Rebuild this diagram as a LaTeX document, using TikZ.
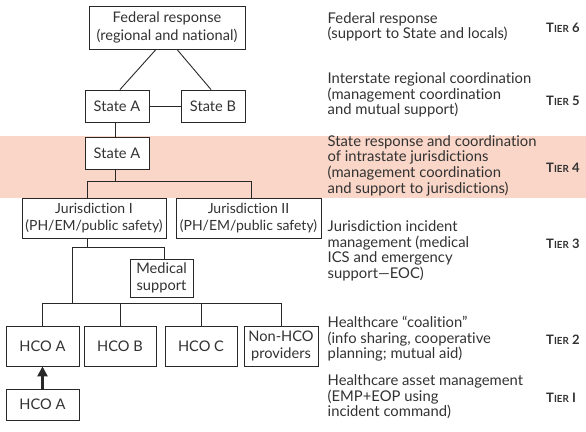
\documentclass[tikz,border=0pt]{standalone}
\usepackage{fontspec}
\setmainfont{Lato}[Ligatures={TeX,NoCommon}]
\usetikzlibrary{arrows.meta,calc}
\definecolor{band}{RGB}{249,214,199}
\definecolor{ink}{RGB}{40,40,40}
\definecolor{txt}{RGB}{50,50,50}
\newcommand{\tierlbl}[1]{\textbf{T{\fontsize{9.8}{10}\selectfont IER} #1}}
\begin{document}
\begin{tikzpicture}[x=1pt,y=-1pt,
  box/.style={draw=ink,line width=0.9pt,fill=white,inner sep=0pt,align=center,text=txt,font=\fontsize{14.6}{17.5}\selectfont},
  conn/.style={draw=ink,line width=0.9pt},
  desc/.style={anchor=west,align=left,text=txt,inner sep=0pt,font=\fontsize{14.8}{15.6}\selectfont},
  tier/.style={anchor=west,text=txt,inner sep=0pt,font=\fontsize{13}{15}\selectfont}]
\useasboundingbox (0,0) rectangle (586,431);
\fill[band] (0,136) rectangle (586,197.5);
% boxes
\node[box,minimum width=156,minimum height=43] (fed) at (167,27.5) {Federal response\\(regional and national)};
\node[box,minimum width=64,minimum height=32] (sa) at (117,106) {State A};
\node[box,minimum width=64,minimum height=32] (sb) at (213,106) {State B};
\node[box,minimum width=64,minimum height=32] (sa2) at (117,153) {State A};
\node[box,minimum width=144,minimum height=40,font=\fontsize{14}{17.5}\selectfont] (j1) at (94,218) {Jurisdiction I\\(PH/EM/public safety)};
\node[box,minimum width=145,minimum height=40,font=\fontsize{14}{17.5}\selectfont] (j2) at (248.5,218) {Jurisdiction II\\(PH/EM/public safety)};
\node[box,minimum width=63,minimum height=38,font=\fontsize{14.6}{16.5}\selectfont] (med) at (161.5,278) {Medical\\support};
\node[box,minimum width=73,minimum height=40] (ha) at (42.5,346) {HCO A};
\node[box,minimum width=72,minimum height=40] (hb) at (120,346) {HCO B};
\node[box,minimum width=72,minimum height=40] (hc) at (201,346) {HCO C};
\node[box,minimum width=74,minimum height=40] (nh) at (281,346) {Non-HCO\\providers};
\node[box,minimum width=73,minimum height=31] (ha2) at (42.5,404.5) {HCO A};
% connectors
\draw[conn] ([xshift=-11]fed.south) -- ([xshift=3]sa.north);
\draw[conn] ([xshift=10]fed.south) -- ([xshift=-2]sb.north);
\draw[conn] (sa.east) -- (sb.west);
\draw[conn] ([xshift=-2]sa.south) -- ([xshift=-2]sa2.north);
\coordinate (b1) at ($(sa2.south)+(-2,12)$);
\draw[conn] (b1) -- ([xshift=-2]sa2.south);
\draw[conn] ([xshift=-7]j1.north) |- (b1) -| ([xshift=2.5]j2.north);
\coordinate (b2) at ($(j1.south)+(-7,9)$);
\draw[conn] ([xshift=-7]j1.south) -- (b2);
\coordinate (b3) at ($(j1.south)+(-22,9)$);
\coordinate (b4) at ($(j1.south)+(-22,65)$);
\draw[conn] (b3) -| ([xshift=2.5]med.north);
\draw[conn] (b2) -- (b3) -- (b4);
\draw[conn] (ha.north) |- (b4) -| (nh.north);
\draw[conn] (hb.north) -- (hb.north |- b4);
\draw[conn] (hc.north) -- (hc.north |- b4);
\draw[draw=ink,line width=3.4pt,-{Triangle[width=10pt,length=10pt]}] (ha2.north) -- (ha.south);
% descriptions
\node[desc] (d6) at (327.5,27) {Federal response\\(support to State and locals)};
\node[desc] (d5) at (327.5,95) {Interstate regional coordination\\(management coordination\\and mutual support)};
\node[desc] (d4) at (327.5,165.5) {State response and coordination\\of intrastate jurisdictions\\(management coordination\\and support to jurisdictions)};
\node[desc] (d3) at (327.5,251) {Jurisdiction incident\\management (medical\\ICS and emergency\\support---EOC)};
\node[desc] (d2) at (327.5,339) {Healthcare ``coalition''\\(info sharing, cooperative\\planning; mutual aid)};
\node[desc] (d1) at (327.5,397) {Healthcare asset management\\(EMP+EOP using\\incident command)};
\node[tier] (t6) at (546,28) {\tierlbl{6}};
\node[tier] (t5) at (546,101) {\tierlbl{5}};
\node[tier] (t4) at (546,168) {\tierlbl{4}};
\node[tier] (t3) at (546,244) {\tierlbl{3}};
\node[tier] (t2) at (546,340) {\tierlbl{2}};
\node[tier] (t1) at (546,398) {\tierlbl{I}};
\end{tikzpicture}
\end{document}
